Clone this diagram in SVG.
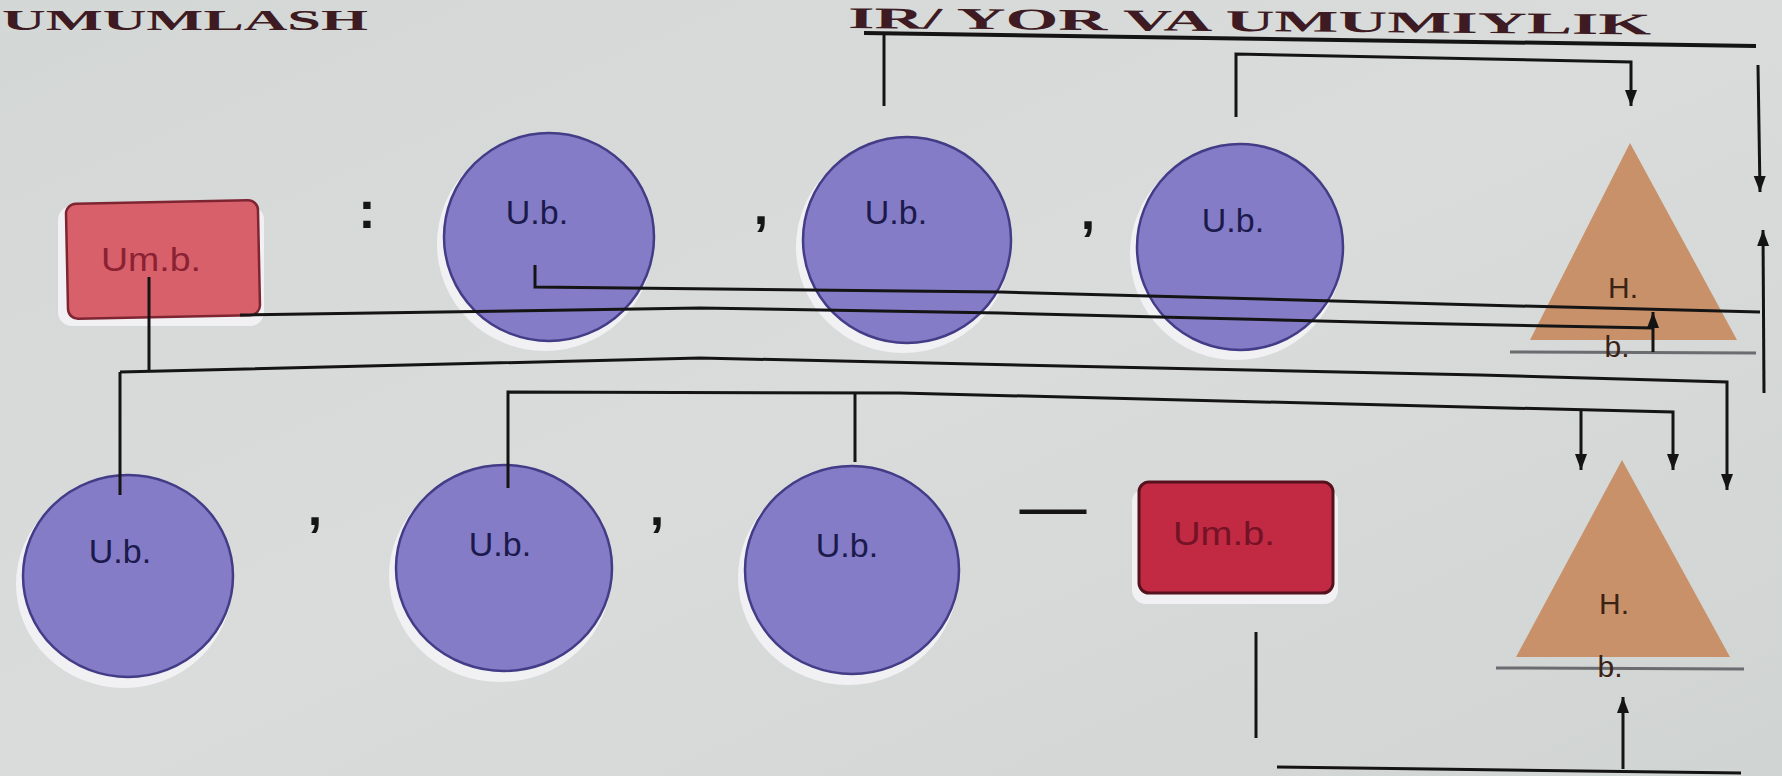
<svg xmlns="http://www.w3.org/2000/svg" width="1782" height="776" viewBox="0 0 1782 776">
<defs>
<linearGradient id="bg" x1="0" y1="0" x2="1" y2="1">
<stop offset="0" stop-color="#d3d7d6"/>
<stop offset="0.5" stop-color="#d9dcdb"/>
<stop offset="1" stop-color="#d0d4d3"/>
</linearGradient>
<marker id="ah" markerUnits="userSpaceOnUse" markerWidth="16" markerHeight="20" refX="16" refY="6" orient="auto">
<path d="M0,0 L16,6 L0,12 Z" fill="#141414"/>
</marker>
<style>
.bg{fill:url(#bg)}
.title{font-family:"Liberation Serif",serif;font-weight:bold;font-size:30px;fill:#3e1a22}
.halo{fill:#f1f1f4}
.circ{fill:#847cc6;stroke:#433c86;stroke-width:2.5}
.ub{font-family:"Liberation Sans",Arial,sans-serif;font-size:34px;fill:#1c1a4c;text-anchor:middle}
.rect1{fill:#d8606b;stroke:#7e2531;stroke-width:2.5}
.rect2{fill:#c12a42;stroke:#55121e;stroke-width:3}
.umb1{font-family:"Liberation Sans",Arial,sans-serif;font-size:34px;fill:#8a2232;text-anchor:middle}
.umb2{font-family:"Liberation Sans",Arial,sans-serif;font-size:34px;fill:#741226;text-anchor:middle}
.tri{fill:#c8916a}
.tline{stroke:#6a6c70;stroke-width:3;fill:none}
.hb{font-family:"Liberation Sans",Arial,sans-serif;font-size:30px;fill:#3a2214;text-anchor:middle}
.punct{font-family:"Liberation Sans",Arial,sans-serif;font-weight:bold;font-size:52px;fill:#151515;text-anchor:middle}
.ln{stroke:#141414;stroke-width:3;fill:none;stroke-linejoin:miter}
.arr{stroke:#141414;stroke-width:3;fill:none;marker-end:url(#ah)}
</style>
</defs>
<rect class="bg" x="0" y="0" width="1782" height="776"/>

<g id="title">
<text class="title" x="2" y="30" textLength="366" lengthAdjust="spacingAndGlyphs">UMUMLASH</text>
<text class="title" x="848" y="28" textLength="803" lengthAdjust="spacingAndGlyphs" transform="rotate(0.45 848 28)">IR/ YOR VA UMUMIYLIK</text>
</g>

<g id="umb-top">
<rect class="halo" x="58" y="206" width="206" height="120" rx="14"/>
<rect class="rect1" x="67" y="202" width="192" height="115" rx="10" transform="rotate(-1.2 163 260)"/>
<text class="umb1" x="151" y="271" textLength="100" lengthAdjust="spacingAndGlyphs">Um.b.</text>
</g>

<g id="colon"><text class="punct" x="367" y="228">:</text></g>

<g id="ub1">
<ellipse class="halo" cx="545" cy="244" rx="108" ry="107"/>
<ellipse class="circ" cx="549" cy="237" rx="105" ry="104"/>
<text class="ub" x="537" y="224">U.b.</text>
</g>
<g id="comma1"><text class="punct" x="761" y="224">,</text></g>
<g id="ub2">
<ellipse class="halo" cx="903" cy="247" rx="107" ry="106"/>
<ellipse class="circ" cx="907" cy="240" rx="104" ry="103"/>
<text class="ub" x="896" y="224">U.b.</text>
</g>
<g id="comma2"><text class="punct" x="1088" y="229">,</text></g>
<g id="ub3">
<ellipse class="halo" cx="1236" cy="254" rx="106" ry="106"/>
<ellipse class="circ" cx="1240" cy="247" rx="103" ry="103"/>
<text class="ub" x="1233" y="232">U.b.</text>
</g>

<g id="triangle-top">
<polygon class="tri" points="1630,143 1737,340 1530,340"/>
<line class="tline" x1="1510" y1="352" x2="1756" y2="353"/>
<text class="hb" x="1623" y="298">H.</text>
<text class="hb" x="1617" y="357">b.</text>
</g>

<g id="ub4">
<ellipse class="halo" cx="124" cy="584" rx="108" ry="104"/>
<ellipse class="circ" cx="128" cy="576" rx="105" ry="101"/>
<text class="ub" x="120" y="563">U.b.</text>
</g>
<g id="comma3"><text class="punct" x="315" y="525">,</text></g>
<g id="ub5">
<ellipse class="halo" cx="500" cy="576" rx="111" ry="106"/>
<ellipse class="circ" cx="504" cy="568" rx="108" ry="103"/>
<text class="ub" x="500" y="556">U.b.</text>
</g>
<g id="comma4"><text class="punct" x="657" y="525">,</text></g>
<g id="ub6">
<ellipse class="halo" cx="848" cy="578" rx="110" ry="107"/>
<ellipse class="circ" cx="852" cy="570" rx="107" ry="104"/>
<text class="ub" x="847" y="557">U.b.</text>
</g>

<g id="dash"><text class="punct" x="1053" y="529" style="font-weight:normal;font-size:67px">—</text></g>

<g id="umb-bottom">
<rect class="halo" x="1132" y="488" width="206" height="116" rx="14"/>
<rect class="rect2" x="1139" y="482" width="194" height="111" rx="10"/>
<text class="umb2" x="1224" y="545" textLength="102" lengthAdjust="spacingAndGlyphs">Um.b.</text>
</g>

<g id="triangle-bottom">
<polygon class="tri" points="1622,460 1730,657 1516,657"/>
<line class="tline" x1="1496" y1="668" x2="1744" y2="669"/>
<text class="hb" x="1614" y="614">H.</text>
<text class="hb" x="1610" y="677">b.</text>
</g>

<g id="connectors">
<line class="ln" x1="864" y1="33" x2="1756" y2="46" style="stroke-width:4"/>
<line class="ln" x1="884" y1="33" x2="884" y2="106"/>
<polyline class="arr" points="1236,117 1236,54 1631,62 1631,106"/>
<polyline class="arr" points="1758,65 1760,192"/>
<polyline class="arr" points="1764,393 1763,230"/>
<polyline class="ln" points="535,265 535,287 1000,292 1480,305 1760,312"/>
<polyline class="ln" points="240,315 700,308 1000,313 1400,323 1653,328"/>
<polyline class="arr" points="1653,352 1653,312"/>
<line class="ln" x1="149" y1="277" x2="149" y2="372"/>
<polyline class="arr" points="120,372 700,358 1480,375 1727,382 1727,490"/>
<line class="ln" x1="120" y1="372" x2="120" y2="495"/>
<polyline class="arr" points="508,488 508,392 900,393 1673,412 1673,470"/>
<polyline class="arr" points="1581,410 1581,470"/>
<line class="ln" x1="855" y1="462" x2="855" y2="394"/>
<line class="ln" x1="1256" y1="632" x2="1256" y2="738"/>
<line class="ln" x1="1277" y1="767" x2="1741" y2="773"/>
<polyline class="arr" points="1623,769 1623,697"/>
</g>
</svg>
